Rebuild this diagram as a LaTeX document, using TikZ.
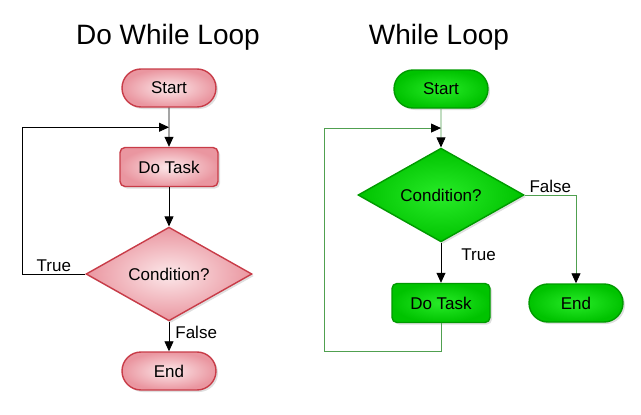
\documentclass[tikz,border=0pt]{standalone}
\usepackage{fontspec}
\setmainfont{Liberation Sans}
\usepackage{xcolor}
\usepackage{tikz}
\usetikzlibrary{positioning, calc, arrows.meta, shapes.misc, shapes.geometric, shadows}

\definecolor{redline}{RGB}{200,60,72}
\definecolor{redin}{RGB}{252,232,234}
\definecolor{redout}{RGB}{234,150,160}
\definecolor{grnline}{RGB}{0,155,0}
\definecolor{grnin}{RGB}{40,235,40}
\definecolor{grnout}{RGB}{0,195,0}
\definecolor{grnwire}{RGB}{80,160,80}

\begin{document}
\begin{tikzpicture}[
      x=1pt, y=-1pt,
      >={Triangle[length=10pt, width=9pt]},
      box/.style={align=center, font=\fontsize{17}{20}\selectfont, inner sep=2pt,
                  line width=1.4pt,
                  drop shadow={shadow xshift=2pt, shadow yshift=-2pt, opacity=0.25}},
      rd/.style={box, draw=redline, inner color=redin, outer color=redout},
      gr/.style={box, draw=grnline, inner color=grnin, outer color=grnout},
      term/.style={rounded rectangle, minimum width=98pt, minimum height=38pt},
      proc/.style={rectangle, rounded corners=5pt, minimum width=98pt, minimum height=39pt},
      dec/.style={diamond, minimum width=166pt, minimum height=92pt, inner sep=0pt},
      lbl/.style={font=\fontsize{17}{20}\selectfont, inner sep=2pt},
      hdr/.style={font=\fontsize{28}{32}\selectfont, anchor=base},
      ln/.style={->, draw=black, line width=0.8pt},
      gl/.style={-{Triangle[length=10pt, width=9pt, color=black]}, draw=grnwire, line width=0.8pt}]
    \useasboundingbox (0,0) rectangle (641,415);
    % headers
    \node[hdr] (t1) at (168,44) {Do While Loop};
    \node[hdr] (t2) at (439,44) {While Loop};
    % do while loop (left)
    \node[rd, term] (start1) at (169,88)  {Start};
    \node[rd, proc] (task1)  at (169,167) {Do Task};
    \node[rd, dec]  (cond1)  at (169,274) {Condition?};
    \node[rd, term] (end1)   at (169,371) {End};
    \coordinate (j1) at ($(start1.south)!0.5!(task1.north)$);
    \draw[ln] (start1) -- (task1);
    \draw[ln] (task1) -- (cond1);
    \draw[ln] (cond1.west) -- node[lbl, above]{True} ++(-63,0) |- (j1);
    \draw[ln] (cond1) -- node[lbl, right=4pt, pos=0.35]{False} (end1);
    % while loop (right)
    \node[gr, term] (start2) at (441,89)  {Start};
    \node[gr, dec]  (cond2)  at (441,195) {Condition?};
    \node[gr, proc] (task2)  at (441,303) {Do Task};
    \node[gr, term] (end2)   at (576,303) {End};
    \coordinate (j2) at ($(start2.south)!0.5!(cond2.north)$);
    \draw[gl] (start2) -- (cond2);
    \draw[ln] (cond2) -- node[lbl, right=18pt, pos=0.3]{True} (task2);
    \draw[gl] (cond2.east) -| node[lbl, above, pos=0.25]{False} (end2);
    \draw[gl] (task2.south) -- ++(0,28) -- ++(-117,0) |- (j2);
  \end{tikzpicture}
\end{document}
